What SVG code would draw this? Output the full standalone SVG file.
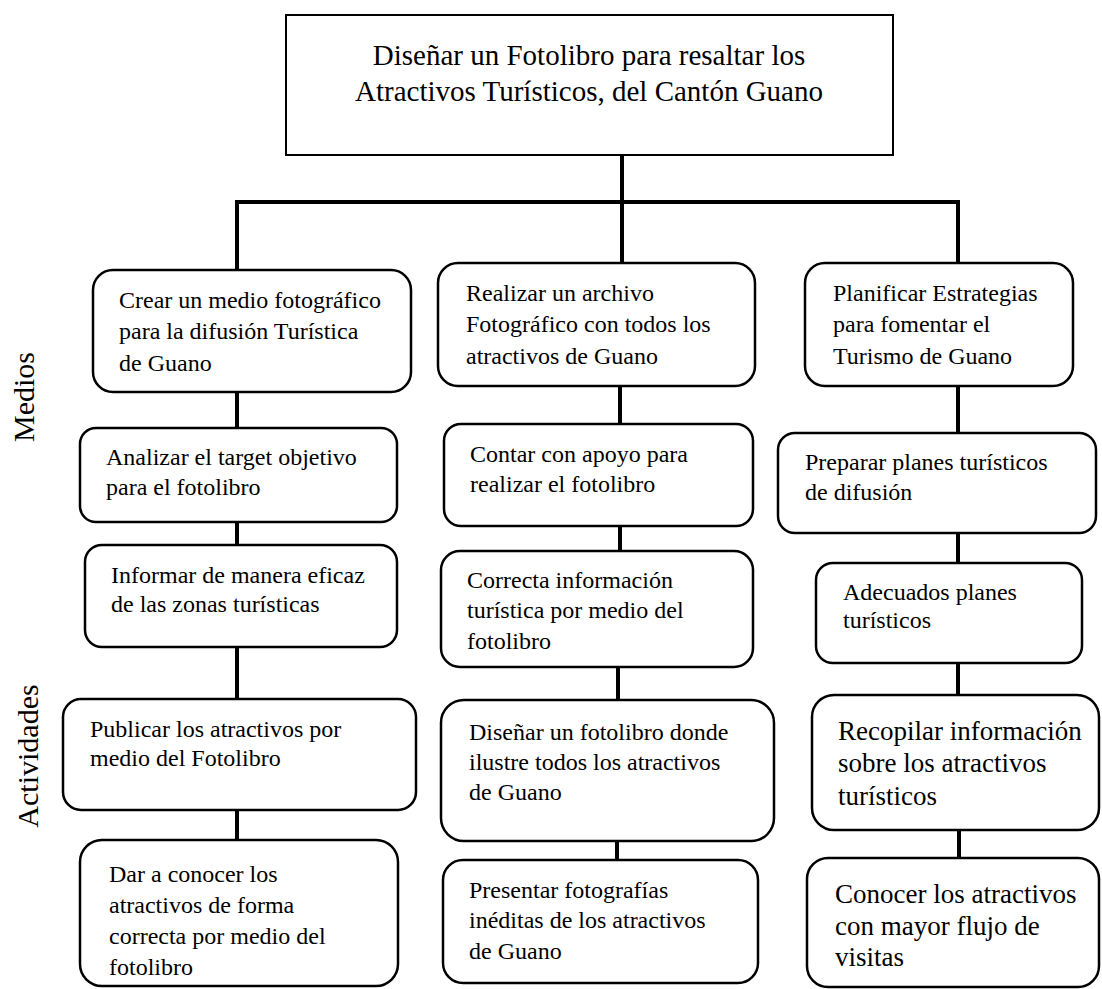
<svg xmlns="http://www.w3.org/2000/svg" width="1102" height="989" viewBox="0 0 1102 989">
<style>
text{font-family:"Liberation Serif","Times New Roman",serif;fill:#000}
.t{font-size:24px}
.b{font-size:27px}
.h{font-size:29px;text-anchor:middle}
.s{font-size:30px;text-anchor:middle}
.box{fill:#fff;stroke:#000;stroke-width:2.5}
.top{fill:#fff;stroke:#000;stroke-width:2}
.c{fill:none;stroke:#000;stroke-width:4;stroke-linejoin:miter}
</style>
<rect width="1102" height="989" fill="#fff"/>
<g id="connectors">
<path class="c" d="M237,270 V202 H958 V263" stroke-width="4.5"/>
<path class="c" d="M622,155 V263" stroke-width="3.5"/>
<path class="c" d="M237,392 V428 M237,522 V545 M237,647 V699 M237,810 V840"/>
<path class="c" d="M620,386 V424 M620,526 V551 M618,667 V700 M617,830 V860"/>
<path class="c" d="M958,386 V433 M958,533 V563 M958,663 V695 M959,830 V858"/>
</g>
<g id="goal">
<rect class="top" x="286" y="15" width="607" height="140"/>
<text class="h" x="589" y="65">Diseñar un Fotolibro para resaltar los</text>
<text class="h" x="589" y="101">Atractivos Turísticos, del Cantón Guano</text>
</g>
<g id="label-medios"><text class="s" transform="translate(34,397) rotate(-90)">Medios</text></g>
<g id="label-actividades"><text class="s" transform="translate(38,756) rotate(-90)">Actividades</text></g>
<g id="L1"><rect class="box" x="93" y="270" width="318" height="122" rx="20"/>
<text class="t" x="119" y="308">Crear un medio fotográfico</text><text class="t" x="119" y="339">para la difusión Turística</text><text class="t" x="119" y="371">de Guano</text></g>
<g id="L2"><rect class="box" x="80" y="428" width="317" height="94" rx="16"/>
<text class="t" x="106" y="465">Analizar el target objetivo</text><text class="t" x="106" y="495">para el fotolibro</text></g>
<g id="L3"><rect class="box" x="85" y="545" width="312" height="102" rx="17"/>
<text class="t" x="111" y="583">Informar de manera eficaz</text><text class="t" x="111" y="612">de las zonas turísticas</text></g>
<g id="L4"><rect class="box" x="63" y="699" width="353" height="111" rx="18"/>
<text class="t" x="90" y="737">Publicar los atractivos por</text><text class="t" x="90" y="766">medio del Fotolibro</text></g>
<g id="L5"><rect class="box" x="80" y="840" width="318" height="146" rx="22"/>
<text class="t" x="109" y="882">Dar a conocer los</text><text class="t" x="109" y="913">atractivos de forma</text><text class="t" x="109" y="944">correcta por medio del</text><text class="t" x="109" y="975">fotolibro</text></g>
<g id="M1"><rect class="box" x="438" y="263" width="317" height="123" rx="20"/>
<text class="t" x="466" y="301">Realizar un archivo</text><text class="t" x="466" y="332">Fotográfico con todos los</text><text class="t" x="466" y="364">atractivos de Guano</text></g>
<g id="M2"><rect class="box" x="444" y="424" width="309" height="102" rx="17"/>
<text class="t" x="470" y="462">Contar con apoyo para</text><text class="t" x="470" y="492">realizar el fotolibro</text></g>
<g id="M3"><rect class="box" x="441" y="551" width="312" height="116" rx="19"/>
<text class="t" x="467" y="588">Correcta información</text><text class="t" x="467" y="618">turística por medio del</text><text class="t" x="467" y="649">fotolibro</text></g>
<g id="M4"><rect class="box" x="441" y="700" width="333" height="141" rx="23"/>
<text class="t" x="469" y="740">Diseñar un fotolibro donde</text><text class="t" x="469" y="770">ilustre todos los atractivos</text><text class="t" x="469" y="800">de Guano</text></g>
<g id="M5"><rect class="box" x="443" y="860" width="315" height="123" rx="20"/>
<text class="t" x="469" y="898">Presentar fotografías</text><text class="t" x="469" y="928">inéditas de los atractivos</text><text class="t" x="469" y="959">de Guano</text></g>
<g id="R1"><rect class="box" x="805" y="263" width="268" height="123" rx="20"/>
<text class="t" x="833" y="301">Planificar Estrategias</text><text class="t" x="833" y="332">para fomentar el</text><text class="t" x="833" y="364">Turismo de Guano</text></g>
<g id="R2"><rect class="box" x="778" y="433" width="318" height="100" rx="17"/>
<text class="t" x="805" y="470">Preparar planes turísticos</text><text class="t" x="805" y="500">de difusión</text></g>
<g id="R3"><rect class="box" x="816" y="563" width="266" height="100" rx="17"/>
<text class="t" x="843" y="600">Adecuados planes</text><text class="t" x="843" y="628">turísticos</text></g>
<g id="R4"><rect class="box" x="812" y="695" width="287" height="135" rx="22"/>
<text class="b" x="838" y="740">Recopilar información</text><text class="b" x="838" y="772">sobre los atractivos</text><text class="b" x="838" y="805">turísticos</text></g>
<g id="R5"><rect class="box" x="807" y="858" width="292" height="129" rx="21"/>
<text class="b" x="835" y="903">Conocer los atractivos</text><text class="b" x="835" y="935">con mayor flujo de</text><text class="b" x="835" y="966">visitas</text></g>
</svg>
